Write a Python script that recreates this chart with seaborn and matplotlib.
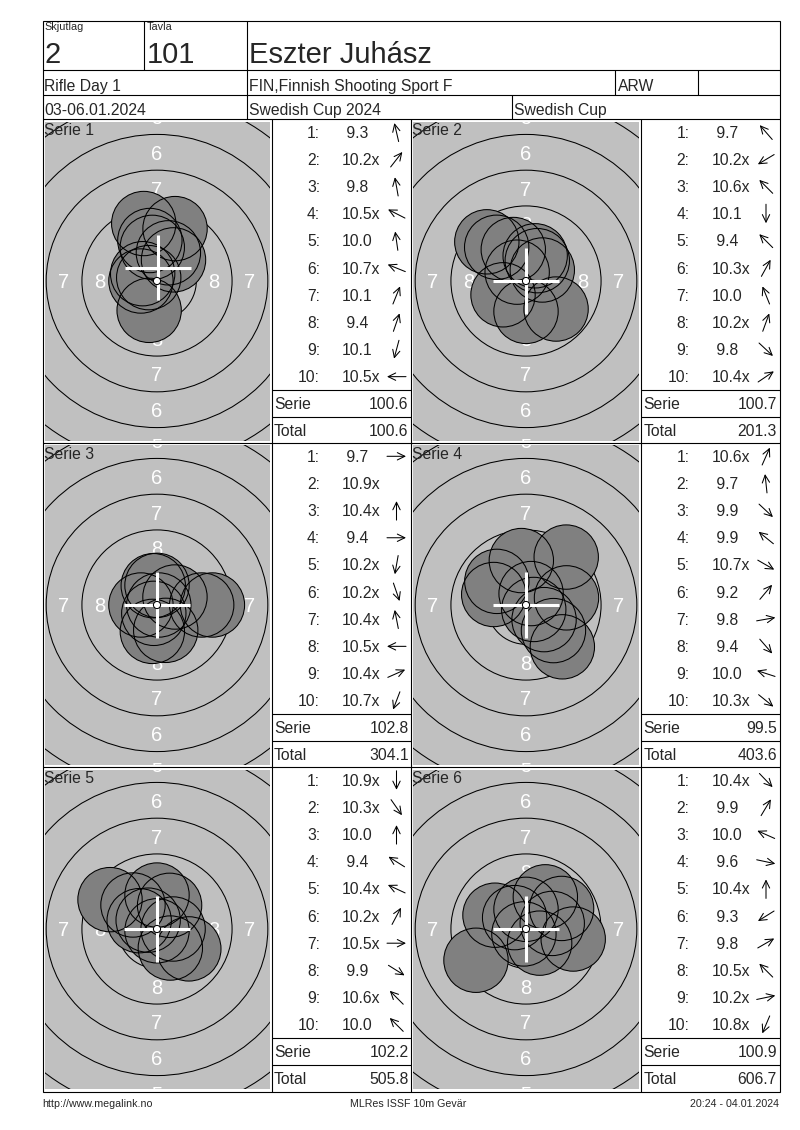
import numpy as np
import pandas as pd
import matplotlib
matplotlib.use("Agg")
import matplotlib.pyplot as plt
from matplotlib.patches import Circle, Rectangle
import seaborn as sns

# ---------------- data ----------------
squad_label = "Skjutlag"
lane_label = "Tavla"
squad = "2"
lane = "101"
shooter = "Eszter Juhász"
event = "Rifle Day 1"
club = "FIN,Finnish Shooting Sport F"
shooter_class = "ARW"
dates = "03-06.01.2024"
competition = "Swedish Cup 2024"
cup = "Swedish Cup"
footer_left = "http://www.megalink.no"
footer_mid = "MLRes ISSF 10m Gevär"
footer_right = "20:24 - 04.01.2024"

series_names = ["Serie 1", "Serie 2", "Serie 3", "Serie 4", "Serie 5", "Serie 6"]

s1_scores = ["9.3", "10.2x", "9.8", "10.5x", "10.0", "10.7x", "10.1", "9.4", "10.1", "10.5x"]
s2_scores = ["9.7", "10.2x", "10.6x", "10.1", "9.4", "10.3x", "10.0", "10.2x", "9.8", "10.4x"]
s3_scores = ["9.7", "10.9x", "10.4x", "9.4", "10.2x", "10.2x", "10.4x", "10.5x", "10.4x", "10.7x"]
s4_scores = ["10.6x", "9.7", "9.9", "9.9", "10.7x", "9.2", "9.8", "9.4", "10.0", "10.3x"]
s5_scores = ["10.9x", "10.3x", "10.0", "9.4", "10.4x", "10.2x", "10.5x", "9.9", "10.6x", "10.0"]
s6_scores = ["10.4x", "9.9", "10.0", "9.6", "10.4x", "9.3", "9.8", "10.5x", "10.2x", "10.8x"]

# shot direction from the centre (degrees, counter-clockwise from east), read from the arrows
s1_dirs = [103, 52, 100, 153, 98, 158, 68, 71, 255, 180]
s2_dirs = [131, 211, 135, 270, 135, 61, 112, 70, 317, 34]
s3_dirs = [0, np.nan, 90, 0, 260, 289, 101, 180, 24, 249]
s4_dirs = [66, 96, 317, 141, 330, 50, 10, 311, 162, 321]
s5_dirs = [270, 305, 90, 148, 155, 62, 0, 328, 135, 135]
s6_dirs = [314, 59, 156, 348, 90, 212, 30, 135, 12, 247]

# white cross-hair position per series (mm from centre), read from the targets
cross_x = [0.06, 0.0, 0.0, 0.0, 0.0, 0.0]
cross_y = [0.94, 0.0, 0.0, 0.0, 0.0, 0.0]

series_sums = ["100.6", "100.7", "102.8", "99.5", "102.2", "100.9"]
running_totals = ["100.6", "201.3", "304.1", "403.6", "505.8", "606.7"]

all_scores = [s1_scores, s2_scores, s3_scores, s4_scores, s5_scores, s6_scores]
all_dirs = [s1_dirs, s2_dirs, s3_dirs, s4_dirs, s5_dirs, s6_dirs]

# ISSF 10 m air rifle target geometry (mm)
ring_radii = [0.25, 2.75, 5.25, 7.75, 10.25, 12.75, 15.25, 17.75, 20.25, 22.75]
ring_numbers = [8, 7, 6, 5, 4, 3, 2, 1]
pellet_radius = 2.25

# ---------------- style ----------------
sns.set_theme(style="white")
plt.rcParams["font.family"] = ["Liberation Sans", "DejaVu Sans"]

W, H = 800, 1130
PX = 14.3  # pixels per mm on the targets
LW = 0.8
FS = 11.3
GRAY_BG = "#C0C0C0"
GRAY_SHOT = "#808080"

fig = plt.figure(figsize=(W / 100, H / 100), dpi=100)


def px_axes(x0, y0, x1, y1, **kw):
    return fig.add_axes([x0 / W, 1 - y1 / H, (x1 - x0) / W, (y1 - y0) / H], **kw)


# panel grid (pixels)
X0 = [42.5, 411.0]
X1 = [271.5, 641.0]
X2 = [411.0, 779.5]
TOPS = [119.0, 443.0, 767.0]
PANEL_H = 324.0

# ---------------- targets ----------------
for k in range(6):
    r, c = divmod(k, 2)
    T = TOPS[r]
    gx0, gx1 = X0[c] + 2, X1[c] - 2
    gy0, gy1 = T + 2.5, T + PANEL_H - 2.5
    hw = (gx1 - gx0) / 2 / PX
    hh = (gy1 - gy0) / 2 / PX
    ax = px_axes(gx0, gy0, gx1, gy1, zorder=1)
    ax.set_facecolor(GRAY_BG)
    for s in ax.spines.values():
        s.set_visible(False)

    for rr in ring_radii[1:]:
        ax.add_patch(Circle((0, 0), rr, fill=False, ec="black", lw=0.75, zorder=1))
    for n in ring_numbers:
        rm = ring_radii[10 - n] - 1.25
        for ux, uy in [(0, 1), (0, -1), (-1, 0), (1, 0)]:
            tx, ty = ux * rm, uy * rm
            if abs(tx) > hw + 0.55 or abs(ty) > hh + 0.55:
                continue
            ax.text(tx, ty, str(n), color="white", fontsize=14.5,
                    ha="center", va="center_baseline", zorder=2, clip_on=True)

    vals = np.array([float(s.rstrip("x")) for s in all_scores[k]])
    dist = (10.9 - vals) * 2.5 + 0.125
    th = np.deg2rad(np.nan_to_num(np.array(all_dirs[k], dtype=float)))
    df = pd.DataFrame({"x": dist * np.cos(th), "y": dist * np.sin(th),
                       "shot": np.arange(1, 11)})

    msize = (2 * pellet_radius * PX * 72 / 100) ** 2
    sns.scatterplot(data=df, x="x", y="y", s=msize, color=GRAY_SHOT,
                    edgecolor="none", linewidth=0, legend=False, ax=ax, zorder=3)
    sns.scatterplot(data=df, x="x", y="y", s=msize, color="black",
                    edgecolor="black", linewidth=0.75, legend=False, ax=ax, zorder=4)
    ax.collections[-1].set_facecolor("none")

    mx, my = cross_x[k], cross_y[k]
    ax.plot([mx - 2.3, mx + 2.3], [my, my], color="white", lw=2.2,
            solid_capstyle="butt", zorder=5)
    ax.plot([mx, mx], [my - 2.3, my + 2.3], color="white", lw=2.2,
            solid_capstyle="butt", zorder=5)
    ax.add_patch(Circle((0, 0), ring_radii[0], fc="white", ec="black", lw=0.75, zorder=6))

    ax.set_xlim(-hw, hw)
    ax.set_ylim(-hh, hh)
    ax.set_xticks([])
    ax.set_yticks([])
    ax.set_xlabel("")
    ax.set_ylabel("")

# ---------------- frame, header and tables ----------------
fr = px_axes(0, 0, W, H, zorder=10)
fr.set_xlim(0, W)
fr.set_ylim(H, 0)
fr.set_axis_off()
fr.patch.set_alpha(0)


def hline(y, x0, x1):
    fr.plot([x0, x1], [y, y], color="black", lw=LW, solid_capstyle="butt")


def vline(x, y0, y1):
    fr.plot([x, x], [y0, y1], color="black", lw=LW, solid_capstyle="butt")


L, R, TOP, BOT = 42.5, 779.5, 21.0, 1092.0
fr.add_patch(Rectangle((L, TOP), R - L, BOT - TOP, fill=False, ec="black", lw=LW))
hline(70.3, L, R)
hline(95.0, L, R)
hline(119.0, L, R)
vline(144.3, TOP, 70.3)
vline(246.7, TOP, 119.0)
vline(615.0, 70.3, 95.0)
vline(698.0, 70.3, 95.0)
vline(512.0, 95.0, 119.0)

fr.text(44, 30.5, squad_label, fontsize=7.8, ha="left", va="baseline")
fr.text(146.5, 30.5, lane_label, fontsize=7.8, ha="left", va="baseline")
fr.text(44, 63.3, squad, fontsize=21, ha="left", va="baseline")
fr.text(146.5, 63.3, lane, fontsize=21, ha="left", va="baseline")
fr.text(249, 63.3, shooter, fontsize=21, ha="left", va="baseline")
fr.text(44, 91, event, fontsize=FS, ha="left", va="baseline")
fr.text(249, 91, club, fontsize=FS, ha="left", va="baseline")
fr.text(617.5, 91, shooter_class, fontsize=FS, ha="left", va="baseline")
fr.text(44, 115, dates, fontsize=FS, ha="left", va="baseline")
fr.text(249, 115, competition, fontsize=FS, ha="left", va="baseline")
fr.text(514.5, 115, cup, fontsize=FS, ha="left", va="baseline")

for yy in TOPS[1:]:
    hline(yy, L, R)
for xx in [X1[0], X2[0], X1[1]]:
    vline(xx, 119.0, BOT)

ARROW_LEN = 19.0
for k in range(6):
    r, c = divmod(k, 2)
    T = TOPS[r]
    fr.text(X0[c] + 1.5, T + 16, series_names[k], fontsize=FS, ha="left", va="baseline")
    hline(T + 271, X1[c], X2[c])
    hline(T + 297.5, X1[c], X2[c])
    for i, (sc, dr) in enumerate(zip(all_scores[k], all_dirs[k])):
        yb = T + 18.9 + 27.15 * i
        fr.text(X1[c] + 48.5, yb, f"{i + 1}:", fontsize=FS, ha="right", va="baseline")
        txt = sc if float(sc.rstrip("x")) >= 10 else " " + sc
        fr.text(X1[c] + 70.5, yb, txt, fontsize=FS, ha="left", va="baseline")
        if not np.isnan(dr):
            cx, cy = X1[c] + 125, yb - 5.6
            ddx = np.cos(np.deg2rad(dr)) * ARROW_LEN / 2
            ddy = -np.sin(np.deg2rad(dr)) * ARROW_LEN / 2
            fr.annotate("", xy=(cx + ddx, cy + ddy), xytext=(cx - ddx, cy - ddy),
                        arrowprops=dict(arrowstyle="->,head_length=0.45,head_width=0.22",
                                        lw=0.75, color="black", shrinkA=0, shrinkB=0))
    fr.text(X1[c] + 2.5, T + 289.6, "Serie", fontsize=FS, ha="left", va="baseline")
    fr.text(X2[c] - 2.5, T + 289.6, series_sums[k], fontsize=FS, ha="right", va="baseline")
    fr.text(X1[c] + 2.5, T + 316.5, "Total", fontsize=FS, ha="left", va="baseline")
    fr.text(X2[c] - 2.5, T + 316.5, running_totals[k], fontsize=FS, ha="right", va="baseline")

fr.text(42, 1107, footer_left, fontsize=7.7, ha="left", va="baseline")
fr.text(408, 1107, footer_mid, fontsize=7.7, ha="center", va="baseline")
fr.text(779.5, 1107, footer_right, fontsize=7.7, ha="right", va="baseline")

fig.savefig("out.png", dpi=100, facecolor="white")
